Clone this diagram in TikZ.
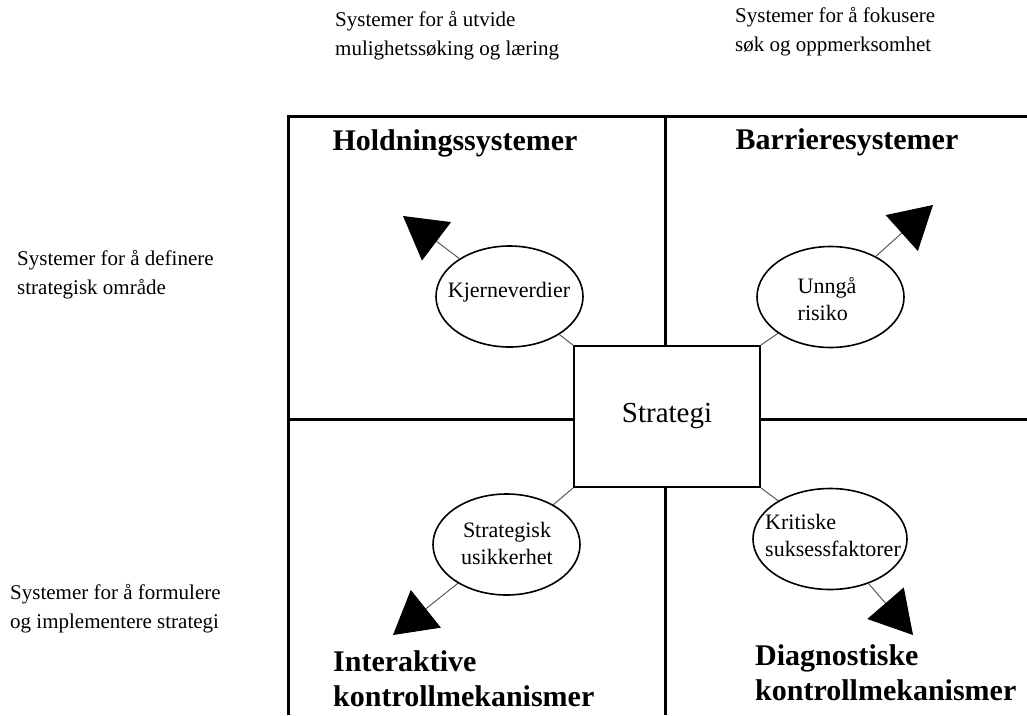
\documentclass[tikz,border=0pt]{standalone}
\usepackage{fontspec}
\setmainfont{Liberation Serif}
\usetikzlibrary{arrows.meta,shapes.geometric}
\begin{document}
\begin{tikzpicture}[x=1pt,y=-1pt,
  grid/.style={line width=3pt, line join=miter},
  heading/.style={font=\fontsize{30}{35}\selectfont\bfseries, inner sep=0pt, align=left},
  side/.style={font=\fontsize{21}{29}\selectfont, inner sep=0pt, align=left, anchor=north west},
  idea/.style={ellipse, draw, line width=1.6pt, fill=white, minimum width=147pt, minimum height=101pt, inner sep=0pt},
  ideatext/.style={font=\fontsize{22}{27}\selectfont, inner sep=0pt},
  link/.style={draw=black!70, line width=0.9pt},
  push/.style={link, -{Triangle[length=42pt,width=48pt,color=black,fill=black]}}
]
\useasboundingbox (0,0) rectangle (1027,715);

% quadrant frame
\draw[grid] (288,715) -- (288,116) -- (1027,116);
\draw[grid] (665,116) -- (665,715);
\draw[grid] (288,419) -- (1027,419);

% centre box
\node[draw, line width=2pt, fill=white, minimum width=186pt, minimum height=141pt,
      inner sep=0pt, font=\fontsize{29}{35}\selectfont] (strat) at (667,416.5) {Strategi};

% quadrant headings
\node[heading] (hold) at (455,143) {Holdningssystemer};
\node[heading] (barr) at (847,142) {Barrieresystemer};
\node[heading, anchor=north west] (inter) at (333,650) {Interaktive\\kontrollmekanismer};
\node[heading, anchor=north west] (diag) at (755,644) {Diagnostiske\\kontrollmekanismer};

% side labels
\node[side] (lblA) at (335,11) {Systemer for å utvide\\mulighetssøking og læring};
\node[side] (lblB) at (735,7) {Systemer for å fokusere\\søk og oppmerksomhet};
\node[side] (lblC) at (17,250) {Systemer for å definere\\strategisk område};
\node[side] (lblD) at (10,584) {Systemer for å formulere\\og implementere strategi};

% ellipses
\node[idea] (kj) at (509.5,296.5) {};
\node[idea] (un) at (830.5,297) {};
\node[idea] (su) at (506.5,544.5) {};
\node[idea, minimum width=154pt] (kr) at (830,539) {};

\node[ideatext] (kjt) at (509,292) {Kjerneverdier};
\node[ideatext, align=left] (unt) at (827,299) {Unngå\\risiko};
\node[ideatext, align=center] (sut) at (507,543) {Strategisk\\usikkerhet};
\node[ideatext, align=left] (krt) at (833,535) {Kritiske\\suksessfaktorer};

% arrow ends
\coordinate (tkj) at (403,216);
\coordinate (tun) at (933,205);
\coordinate (tsu) at (393,635);
\coordinate (tkr) at (913,635);

% links from the strategy box
\draw[link] (strat.north west) -- (kj);
\draw[link] (strat.north east) -- (un);
\draw[link] (strat.south west) -- (su);
\draw[link] (strat.south east) -- (kr);

% outward arrows
\draw[push] (kj) -- (tkj);
\draw[push] (un) -- (tun);
\draw[push] (su) -- (tsu);
\draw[push] (kr) -- (tkr);
\end{tikzpicture}
\end{document}
